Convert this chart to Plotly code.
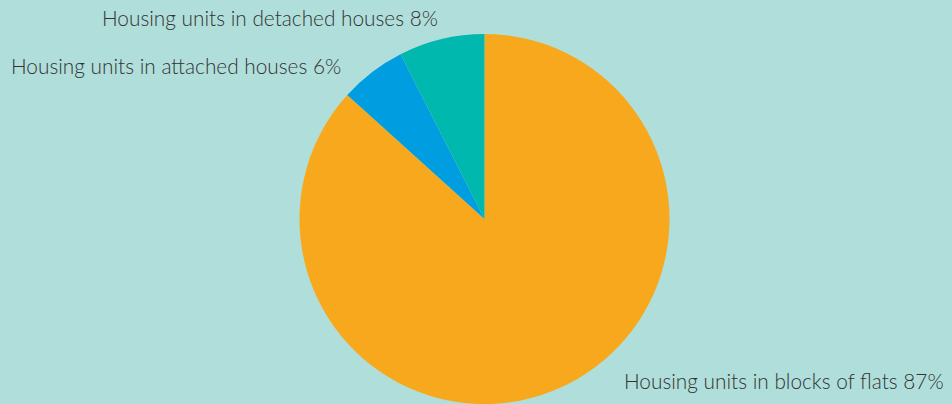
import plotly.graph_objects as go

categories = ["Housing units in blocks of flats", "Housing units in attached houses", "Housing units in detached houses"]
values = [86.7, 5.8, 7.5]
pct_labels = ["87%", "6%", "8%"]
colors = ["#F8A81D", "#009EE0", "#00B8AD"]

W, H = 952, 404
fig = go.Figure(go.Pie(
    labels=categories, values=values, sort=False, direction="clockwise", rotation=0,
    marker=dict(colors=colors, line=dict(width=0)), textinfo="none", hoverinfo="label+percent",
    domain=dict(x=[299 / W, 670 / W], y=[0, 1 - 34 / H]), showlegend=False,
))

# label positions (pixel anchors -> paper)
label_pos = [(946, 380, "right"), (343, 65, "right"), (440, 17, "right")]
for cat, pct, (px, py, anc) in zip(categories, pct_labels, label_pos):
    fig.add_annotation(x=px / W, y=1 - py / H, xref="paper", yref="paper",
                       text=f"{cat} {pct}", showarrow=False, xanchor=anc, yanchor="middle",
                       font=dict(family="Lato", size=20.8, weight=300, color="#333333"))

fig.update_layout(width=W, height=H, margin=dict(l=0, r=0, t=0, b=0),
                  paper_bgcolor="#B0DFDB", plot_bgcolor="#B0DFDB")
fig.write_html("out.html", config={"displayModeBar": False})

with open("out.html", encoding="utf-8") as f:
    html = f.read()
html = html.replace("<head>", "<head><style>html,body{margin:0;padding:0;background:#B0DFDB;}</style>", 1)
with open("out.html", "w", encoding="utf-8") as f:
    f.write(html)
